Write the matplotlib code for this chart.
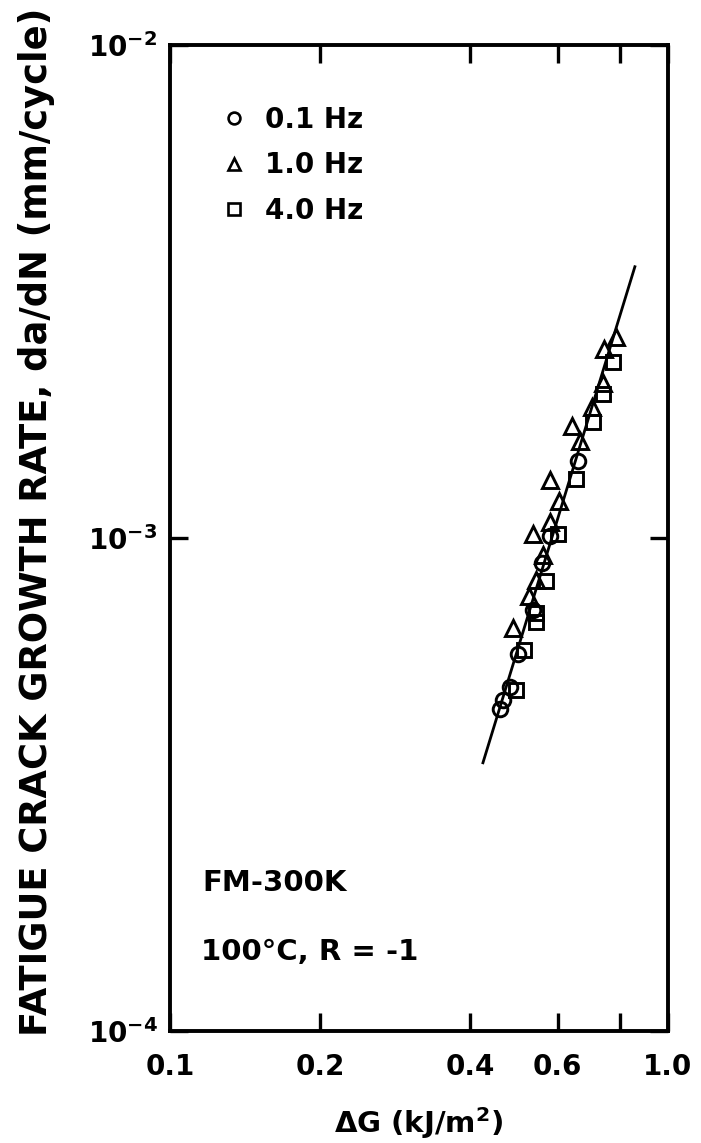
import matplotlib
matplotlib.use("Agg")
import matplotlib.pyplot as plt
from matplotlib.lines import Line2D

# ---- data ----
freq_labels = ["0.1 Hz", "1.0 Hz", "4.0 Hz"]

dg_01hz = [0.660, 0.580, 0.559, 0.536, 0.500, 0.482, 0.466, 0.460]
rate_01hz = [1.43e-3, 1.01e-3, 8.90e-4, 7.14e-4, 5.81e-4, 4.98e-4, 4.69e-4, 4.50e-4]

dg_10hz = [0.786, 0.744, 0.740, 0.704, 0.642, 0.666, 0.580, 0.604,
           0.580, 0.536, 0.561, 0.543, 0.526, 0.488]
rate_10hz = [2.56e-3, 2.42e-3, 2.06e-3, 1.84e-3, 1.69e-3, 1.57e-3, 1.31e-3, 1.19e-3,
             1.08e-3, 1.02e-3, 9.24e-4, 8.22e-4, 7.63e-4, 6.57e-4]

dg_40hz = [0.775, 0.740, 0.707, 0.654, 0.601, 0.569, 0.543, 0.543, 0.514, 0.495]
rate_40hz = [2.28e-3, 1.96e-3, 1.72e-3, 1.32e-3, 1.02e-3, 8.18e-4, 7.05e-4, 6.76e-4,
             5.93e-4, 4.91e-4]

fit_dg = [0.425, 0.858]
fit_rate = [3.50e-4, 3.55e-3]

xtick_vals = [0.1, 0.2, 0.4, 0.6, 0.8, 1.0]
xtick_labels = ["0.1", "0.2", "0.4", "0.6", "", "1.0"]
ytick_vals = [1e-4, 1e-3, 1e-2]
ytick_labels = [r"$\mathbf{10^{-4}}$", r"$\mathbf{10^{-3}}$", r"$\mathbf{10^{-2}}$"]

# ---- style ----
plt.rcParams["font.family"] = ["DejaVu Sans"]
plt.rcParams["font.weight"] = "bold"
plt.rcParams["mathtext.fontset"] = "dejavusans"

W, H = 701, 1143
fig = plt.figure(figsize=(W / 100, H / 100), dpi=100)
left, right, top, bottom = 170, 668, 45, 1031
ax = fig.add_axes([left / W, 1 - bottom / H, (right - left) / W, (bottom - top) / H])

ax.set_xscale("log")
ax.set_yscale("log")
ax.set_xlim(0.1, 1.0)
ax.set_ylim(1e-4, 1e-2)

mk = dict(linestyle="none", markerfacecolor="none", markeredgecolor="black",
          markeredgewidth=2.1, color="black")
ax.plot(dg_01hz, rate_01hz, marker="o", markersize=10.5, **mk)
ax.plot(dg_10hz, rate_10hz, marker="^", markersize=11, **mk)
ax.plot(dg_40hz, rate_40hz, marker="s", markersize=9.5, **mk)
ax.plot(fit_dg, fit_rate, color="black", linewidth=2.0)

for s in ax.spines.values():
    s.set_linewidth(2.8)

ax.xaxis.set_minor_locator(matplotlib.ticker.NullLocator())
ax.yaxis.set_minor_locator(matplotlib.ticker.NullLocator())
ax.set_xticks(xtick_vals)
ax.set_xticklabels(xtick_labels)
ax.set_yticks(ytick_vals)
ax.set_yticklabels(ytick_labels)
ax.tick_params(which="major", direction="in", length=13, width=2.4,
               top=True, right=True, labelsize=20)
ax.tick_params(axis="x", pad=16)
ax.tick_params(axis="y", pad=9)
for lab in ax.get_xticklabels() + ax.get_yticklabels():
    lab.set_fontweight("bold")

ax.set_xlabel(r"ΔG (kJ/m$^{\mathbf{2}}$)", fontsize=21, fontweight="bold")
ax.xaxis.set_label_coords(0.5, -0.075)

fig.text(37 / W, 1 - 8 / H, "FATIGUE CRACK GROWTH RATE, da/dN (mm/cycle)",
         rotation=90, fontsize=26.5, fontweight="bold", ha="center", va="top")

handles = [
    Line2D([], [], marker="o", markersize=8.5, **{**mk, "markeredgewidth": 1.9}),
    Line2D([], [], marker="^", markersize=9, **{**mk, "markeredgewidth": 1.9}),
    Line2D([], [], marker="s", markersize=8, **{**mk, "markeredgewidth": 1.9}),
]
leg = ax.legend(handles, freq_labels, loc="upper left",
                bbox_to_anchor=(0.100, 0.938), frameon=False, fontsize=20,
                handlelength=1.0, handletextpad=0.64, labelspacing=0.62,
                borderaxespad=0, borderpad=0)
for t in leg.get_texts():
    t.set_fontweight("bold")

ax.text(0.066, 0.150, "FM-300K", transform=ax.transAxes, fontsize=21,
        fontweight="bold", va="center", ha="left")
ax.text(0.062, 0.080, "100°C, R = -1", transform=ax.transAxes, fontsize=21,
        fontweight="bold", va="center", ha="left")

fig.savefig("out.png", dpi=100)
